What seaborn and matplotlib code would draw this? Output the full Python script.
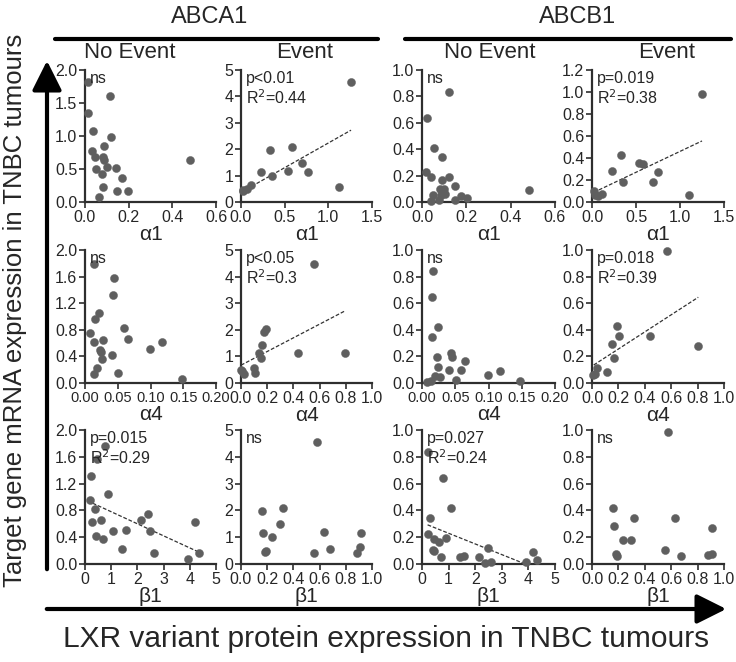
import numpy as np
import pandas as pd
import matplotlib
matplotlib.use("Agg")
import matplotlib.pyplot as plt
import seaborn as sns

sns.set_theme(style="ticks")
plt.rcParams['font.family'] = ['Liberation Sans', 'DejaVu Sans']

# ---------------- data ----------------
# Row 1: alpha1
a1_nev_x = [0.015, 0.114, 0.012, 0.035, 0.119, 0.088, 0.033, 0.046, 0.084, 0.085, 0.050, 0.099, 0.141, 0.076, 0.170, 0.082, 0.146, 0.199, 0.065, 0.481]
a1_nev_abca1 = [1.82, 1.61, 1.35, 1.07, 0.99, 0.85, 0.77, 0.68, 0.68, 0.63, 0.50, 0.53, 0.52, 0.43, 0.37, 0.23, 0.16, 0.17, 0.08, 0.63]
a1_nev_x_b = [0.124, 0.022, 0.056, 0.090, 0.020, 0.042, 0.120, 0.090, 0.147, 0.080, 0.098, 0.105, 0.050, 0.087, 0.175, 0.203, 0.150, 0.075, 0.040, 0.483]
a1_nev_abcb1 = [0.83, 0.635, 0.41, 0.34, 0.23, 0.19, 0.19, 0.165, 0.12, 0.095, 0.095, 0.06, 0.056, 0.056, 0.048, 0.03, 0.013, 0.013, 0.005, 0.09]
a1_ev_x = [1.259, 0.329, 0.589, 0.226, 0.352, 0.540, 0.700, 0.762, 1.117, 0.115, 0.065, 0.019, 0.027]
a1_ev_abca1 = [4.56, 1.97, 2.08, 1.15, 1.00, 1.19, 1.48, 1.14, 0.56, 0.63, 0.49, 0.41, 0.46]
a1_ev_x_b = [1.253, 0.330, 0.224, 0.536, 0.585, 0.752, 0.349, 0.691, 1.101, 0.114, 0.023, 0.038, 0.072]
a1_ev_abcb1 = [0.986, 0.425, 0.285, 0.352, 0.346, 0.272, 0.184, 0.184, 0.061, 0.073, 0.104, 0.067, 0.058]

# Row 2: alpha4
a4_nev_x = [0.0141, 0.044, 0.0424, 0.022, 0.016, 0.007, 0.059, 0.065, 0.0136, 0.027, 0.023, 0.024, 0.026, 0.041, 0.099, 0.117, 0.019, 0.014, 0.050, 0.148]
a4_nev_abca1 = [1.79, 1.58, 1.33, 1.05, 0.965, 0.754, 0.83, 0.66, 0.61, 0.65, 0.49, 0.47, 0.36, 0.42, 0.51, 0.61, 0.22, 0.14, 0.15, 0.06]
a4_nev_x_b = [0.0165, 0.0145, 0.0235, 0.015, 0.043, 0.045, 0.022, 0.0645, 0.024, 0.041, 0.059, 0.117, 0.099, 0.019, 0.027, 0.0505, 0.148, 0.014, 0.0075]
a4_nev_abcb1 = [0.843, 0.648, 0.418, 0.345, 0.227, 0.193, 0.193, 0.164, 0.117, 0.097, 0.097, 0.091, 0.057, 0.055, 0.044, 0.026, 0.013, 0.013, 0.005]
a4_ev_x = [0.561, 0.191, 0.176, 0.161, 0.135, 0.153, 0.436, 0.796, 0.099, 0.105, 0.003, 0.010, 0.023]
a4_ev_abca1 = [4.48, 2.02, 1.92, 1.42, 1.11, 0.94, 1.14, 1.11, 0.58, 0.38, 0.50, 0.44, 0.35]
a4_ev_x_b = [0.570, 0.190, 0.205, 0.443, 0.149, 0.805, 0.170, 0.114, 0.038, 0.020, 0.010]
a4_ev_abcb1 = [0.992, 0.427, 0.351, 0.354, 0.290, 0.277, 0.190, 0.079, 0.115, 0.071, 0.060]

# Row 3: beta1
b1_nev_x = [0.77, 0.45, 0.23, 0.88, 0.20, 0.40, 2.42, 0.28, 0.61, 2.15, 4.19, 0.43, 0.68, 1.06, 1.55, 2.47, 1.40, 2.63, 3.94, 4.34]
b1_nev_abca1 = [1.76, 1.57, 1.31, 1.04, 0.96, 0.82, 0.75, 0.62, 0.66, 0.66, 0.62, 0.42, 0.38, 0.49, 0.51, 0.50, 0.23, 0.16, 0.08, 0.17]
b1_nev_x_b = [0.21, 0.78, 1.08, 0.29, 0.24, 0.46, 0.90, 0.63, 2.48, 0.41, 0.46, 4.19, 0.70, 1.41, 1.58, 2.16, 2.59, 2.38, 3.90, 4.31]
b1_nev_abcb1 = [0.836, 0.64, 0.415, 0.344, 0.223, 0.19, 0.195, 0.167, 0.118, 0.103, 0.10, 0.09, 0.049, 0.054, 0.062, 0.054, 0.015, 0.01, 0.015, 0.03]
b1_ev_x = [0.582, 0.163, 0.321, 0.296, 0.168, 0.237, 0.633, 0.918, 0.676, 0.911, 0.189, 0.184, 0.559, 0.885]
b1_ev_abca1 = [4.57, 1.97, 2.08, 1.48, 1.15, 0.99, 1.19, 1.14, 0.56, 0.62, 0.49, 0.46, 0.41, 0.42]
b1_ev_x_b = [0.575, 0.162, 0.167, 0.319, 0.628, 0.909, 0.233, 0.294, 0.554, 0.185, 0.192, 0.671, 0.876, 0.906]
b1_ev_abcb1 = [0.982, 0.42, 0.284, 0.342, 0.347, 0.268, 0.182, 0.182, 0.106, 0.076, 0.061, 0.061, 0.068, 0.073]

# fitted line (intercept, slope, x start, x end)
fits = {
    (0, 1): (0.365, 1.87, 0.01, 1.26), (0, 3): (0.08, 0.38, 0.02, 1.25),
    (1, 1): (0.67, 2.57, 0.0, 0.79), (1, 3): (0.127, 0.643, 0.013, 0.805),
    (2, 0): (0.96, -0.18, 0.1, 4.34), (2, 2): (0.309, -0.0796, 0.21, 3.9),
}
stats_text = {
    (0, 0): "ns", (0, 1): "p<0.01\nR$^2$=0.44", (0, 2): "ns", (0, 3): "p=0.019\nR$^2$=0.38",
    (1, 0): "ns", (1, 1): "p<0.05\nR$^2$=0.3", (1, 2): "ns", (1, 3): "p=0.018\nR$^2$=0.39",
    (2, 0): "p=0.015\nR$^2$=0.29", (2, 1): "ns", (2, 2): "p=0.027\nR$^2$=0.24", (2, 3): "ns",
}
panels = [
    [(a1_nev_x, a1_nev_abca1), (a1_ev_x, a1_ev_abca1), (a1_nev_x_b, a1_nev_abcb1), (a1_ev_x_b, a1_ev_abcb1)],
    [(a4_nev_x, a4_nev_abca1), (a4_ev_x, a4_ev_abca1), (a4_nev_x_b, a4_nev_abcb1), (a4_ev_x_b, a4_ev_abcb1)],
    [(b1_nev_x, b1_nev_abca1), (b1_ev_x, b1_ev_abca1), (b1_nev_x_b, b1_nev_abcb1), (b1_ev_x_b, b1_ev_abcb1)],
]
row_labels = ["α1", "α4", "β1"]
xticks = [
    [[0.0, 0.2, 0.4, 0.6], [0.0, 0.5, 1.0, 1.5], [0.0, 0.2, 0.4, 0.6], [0.0, 0.5, 1.0, 1.5]],
    [[0.0, 0.05, 0.10, 0.15, 0.20], [0.0, 0.2, 0.4, 0.6, 0.8, 1.0], [0.0, 0.05, 0.10, 0.15, 0.20], [0.0, 0.2, 0.4, 0.6, 0.8, 1.0]],
    [[0, 1, 2, 3, 4, 5], [0.0, 0.2, 0.4, 0.6, 0.8, 1.0], [0, 1, 2, 3, 4, 5], [0.0, 0.2, 0.4, 0.6, 0.8, 1.0]],
]
xfmt = [["%.1f"] * 4, ["%.2f", "%.1f", "%.2f", "%.1f"], ["%d", "%.1f", "%d", "%.1f"]]
yticks = [
    [[0.0, 0.5, 1.0, 1.5, 2.0], [0, 1, 2, 3, 4, 5], [0.0, 0.2, 0.4, 0.6, 0.8, 1.0], [0.0, 0.2, 0.4, 0.6, 0.8, 1.0, 1.2]],
    [[0.0, 0.4, 0.8, 1.2, 1.6, 2.0], [0, 1, 2, 3, 4, 5], [0.0, 0.2, 0.4, 0.6, 0.8, 1.0], [0.0, 0.2, 0.4, 0.6, 0.8, 1.0]],
    [[0.0, 0.4, 0.8, 1.2, 1.6, 2.0], [0, 1, 2, 3, 4, 5], [0.0, 0.2, 0.4, 0.6, 0.8, 1.0], [0.0, 0.2, 0.4, 0.6, 0.8, 1.0]],
]
yfmt = ["%.1f", "%d", "%.1f", "%.1f"]

# ---------------- figure ----------------
W, H = 736, 662
fig = plt.figure(figsize=(W / 100, H / 100), dpi=100)
col_left = [85, 241, 422, 592]
col_w = [131, 131, 133, 132]
row_top = [70, 250, 430]
row_bot = [202, 383, 564]
pt_color = "#5f5f5f"
axis_color = "#2e2e2e"

for r in range(3):
    for c in range(4):
        l = col_left[c] / W
        b = 1 - row_bot[r] / H
        ax = fig.add_axes([l, b, col_w[c] / W, (row_bot[r] - row_top[r]) / H])
        xs, ys = panels[r][c]
        df = pd.DataFrame({"x": xs, "y": ys})
        sns.scatterplot(data=df, x="x", y="y", ax=ax, color=pt_color, s=34,
                        edgecolor=pt_color, linewidth=0.3, zorder=3, clip_on=False)
        if (r, c) in fits:
            b0, b1, x0, x1 = fits[(r, c)]
            xl = np.array([x0, x1])
            ax.plot(xl, b0 + b1 * xl, ls=(0, (3, 1.5)), color="#333333", lw=0.9, zorder=2)
        xt, yt = xticks[r][c], yticks[r][c]
        ax.set_xlim(xt[0], xt[-1])
        ax.set_ylim(yt[0], yt[-1])
        ax.set_xticks(xt)
        ax.set_yticks(yt)
        xfs = 10.5 if len(xt) == 5 else 11.5
        ax.set_xticklabels([xfmt[r][c] % v for v in xt], fontsize=xfs)
        ax.set_yticklabels([yfmt[c] % v for v in yt], fontsize=11.5)
        ax.set_xlabel(row_labels[r], fontsize=15, labelpad=0)
        ax.set_ylabel("")
        for s in ["top", "right"]:
            ax.spines[s].set_visible(False)
        for s in ["left", "bottom"]:
            ax.spines[s].set_linewidth(1.6)
            ax.spines[s].set_color(axis_color)
        ax.tick_params(axis="both", length=4, width=1.2, color=axis_color, pad=1.5)
        ax.text(0.04, 0.99, stats_text[(r, c)], transform=ax.transAxes, fontsize=11.5,
                va="top", ha="left", linespacing=1.15)

# headers
fig.text(210 / W, 1 - 17 / H, "ABCA1", fontsize=17, ha="center", va="center")
fig.text(578 / W, 1 - 17 / H, "ABCB1", fontsize=17, ha="center", va="center")
fig.add_artist(plt.Line2D([55 / W, 378 / W], [1 - 39 / H] * 2, color="black", lw=3))
fig.add_artist(plt.Line2D([405 / W, 731 / W], [1 - 39 / H] * 2, color="black", lw=3))
for xc, t in [(130, "No Event"), (305, "Event"), (490, "No Event"), (667, "Event")]:
    fig.text(xc / W, 1 - 52 / H, t, fontsize=16, ha="center", va="center")

# axis-wide labels with arrows
fig.text(15 / W, 1 - 310 / H, "Target gene mRNA expression in TNBC tumours", rotation=90,
         fontsize=18.5, ha="center", va="center")
fig.text(386 / W, 1 - 639 / H, "LXR variant protein expression in TNBC tumours",
         fontsize=21.5, ha="center", va="center")
fig.add_artist(matplotlib.patches.FancyArrowPatch((47 / W, 1 - 572 / H), (47 / W, 1 - 58 / H),
               transform=fig.transFigure, arrowstyle="-|>,head_length=9,head_width=4.5",
               color="black", lw=3, mutation_scale=2))
fig.add_artist(matplotlib.patches.FancyArrowPatch((44 / W, 1 - 609 / H), (729 / W, 1 - 609 / H),
               transform=fig.transFigure, arrowstyle="-|>,head_length=9,head_width=4.5",
               color="black", lw=3, mutation_scale=2))

fig.savefig("out.png", dpi=100)
